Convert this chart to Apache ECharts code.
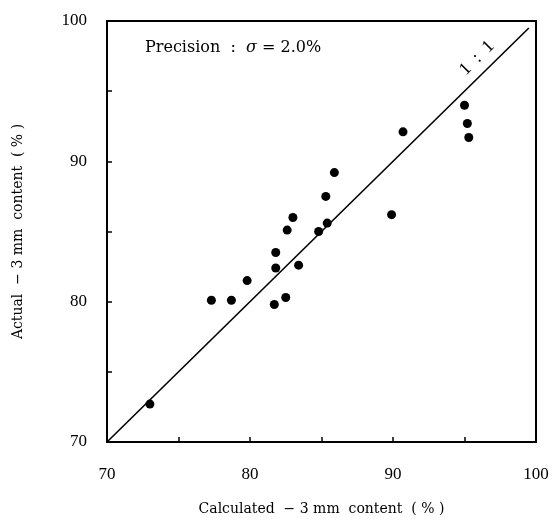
<!DOCTYPE html>
<html>
<head>
<meta charset="utf-8">
<script src="https://cdn.jsdelivr.net/npm/echarts@6/dist/echarts.min.js"></script>
<style>html,body{margin:0;padding:0;background:#fff;}#c{width:555px;height:521px;}</style>
</head>
<body>
<div id="c"></div>
<script>
var calculated = [73.0, 77.3, 78.7, 79.8, 81.7, 81.8, 81.8, 82.5, 82.6, 83.0, 83.4, 84.8, 85.4, 85.3, 85.9, 89.9, 90.7, 95.0, 95.2, 95.3];
var actual     = [72.7, 80.1, 80.1, 81.5, 79.8, 82.4, 83.5, 80.3, 85.1, 86.0, 82.6, 85.0, 85.6, 87.5, 89.2, 86.2, 92.1, 94.0, 92.7, 91.7];
var oneToOne = [70, 99.5];
var axisTicks = [70, 80, 90, 100];

var pts = calculated.map(function (v, i) { return [v, actual[i]]; });
var lineData = oneToOne.map(function (v) { return [v, v]; });

var serif = '"Liberation Serif", "DejaVu Serif", serif';
var chart = echarts.init(document.getElementById('c'), null, {renderer: 'canvas'});

function axis(name, isY) {
  return {
    type: 'value', min: axisTicks[0], max: axisTicks[axisTicks.length - 1], interval: 5,
    name: name, nameLocation: 'middle', nameGap: isY ? 82 : 60,
    nameTextStyle: {fontFamily: '"DejaVu Serif", serif', fontSize: 14, color: '#000'},
    axisLine: {show: true, lineStyle: {color: '#000', width: 2}},
    axisTick: {show: true, inside: true, length: 5, lineStyle: {color: '#000', width: 1.5}},
    splitLine: {show: false},
    axisLabel: {
      fontFamily: serif, fontSize: 17, color: '#000', margin: isY ? 20 : 24,
      formatter: function (v) { return axisTicks.indexOf(v) >= 0 ? String(v) : ''; }
    }
  };
}

chart.setOption({
  animation: false,
  backgroundColor: '#fff',
  grid: {left: 107, right: 19, top: 21, bottom: 74, show: true, borderColor: '#000', borderWidth: 2},
  xAxis: axis('Calculated  − 3 mm  content  ( % )', false),
  yAxis: axis('Actual  − 3 mm  content  ( % )', true),
  series: [
    {type: 'line', data: lineData, symbol: 'none', lineStyle: {color: '#000', width: 1.6}, z: 2},
    {type: 'scatter', data: pts, symbol: 'circle', symbolSize: 9, itemStyle: {color: '#000', opacity: 1}, z: 3}
  ],
  graphic: [
    {type: 'text', left: 145, top: 40, style: {
      text: '{n|Precision  :  }{s|σ}{n| = 2.0%}',
      rich: {
        n: {fontFamily: '"DejaVu Serif", serif', fontSize: 16, fill: '#000'},
        s: {fontFamily: '"DejaVu Serif", serif', fontSize: 16, fontStyle: 'italic', fill: '#000'}
      }
    }},
    {type: 'text', x: 477, y: 58, rotation: Math.PI / 4, style: {
      text: '1  :  1', fontFamily: serif, fontSize: 18, fill: '#000', align: 'center', verticalAlign: 'middle'
    }}
  ]
});
</script>
</body>
</html>
